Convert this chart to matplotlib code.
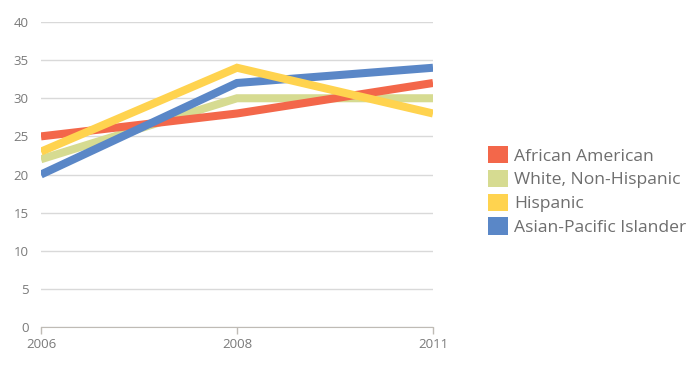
import matplotlib
matplotlib.use("Agg")
import matplotlib.pyplot as plt
from matplotlib.patches import Patch

years = ["2006", "2008", "2011"]
series_names = ["African American", "White, Non-Hispanic", "Hispanic", "Asian-Pacific Islander"]
african_american = [25, 28, 32]
white_non_hispanic = [22, 30, 30]
hispanic = [23, 34, 28]
asian_pacific = [20, 32, 34]
colors = ["#F3674A", "#D6DB91", "#FFD34F", "#5A87C7"]
zorders = [3, 2, 5, 4]

plt.rcParams['font.family'] = ['Open Sans', 'DejaVu Sans']

fig = plt.figure(figsize=(6.9, 3.7), dpi=100)
ax = fig.add_axes([41/690, 1-327/370, (433-41)/690, (327-22)/370])

x = list(range(len(years)))
for vals, c, z in zip([african_american, white_non_hispanic, hispanic, asian_pacific], colors, zorders):
    ax.plot(x, vals, color=c, lw=5.8, zorder=z, solid_capstyle='butt', solid_joinstyle='miter')

ax.set_xlim(0, len(years)-1)
ax.set_ylim(0, 40)
ax.set_yticks(range(0, 41, 5))
ax.set_xticks(x)
ax.set_xticklabels(years)
ax.grid(axis='y', color='#D9D9D9', lw=1)
ax.set_axisbelow(True)
for s in ['top', 'right', 'left']:
    ax.spines[s].set_visible(False)
ax.spines['bottom'].set_color('#BFBBB5')
ax.spines['bottom'].set_zorder(1)
ax.tick_params(axis='y', length=0, pad=9, labelsize=9.5, labelcolor='#7A7A7A')
ax.tick_params(axis='x', length=5, width=1, color='#BFBBB5', pad=3, labelsize=9.5, labelcolor='#7A7A7A')

handles = [Patch(facecolor=c, edgecolor='none') for c in colors]
fig.legend(handles, series_names, loc='center left', bbox_to_anchor=(479/690, 1-191/370),
           frameon=False, fontsize=12.6, labelcolor='#6E6E6E', handlelength=1.13, handleheight=1.13,
           handletextpad=0.36, labelspacing=0.3, borderpad=0)

fig.savefig("out.png", dpi=100)
